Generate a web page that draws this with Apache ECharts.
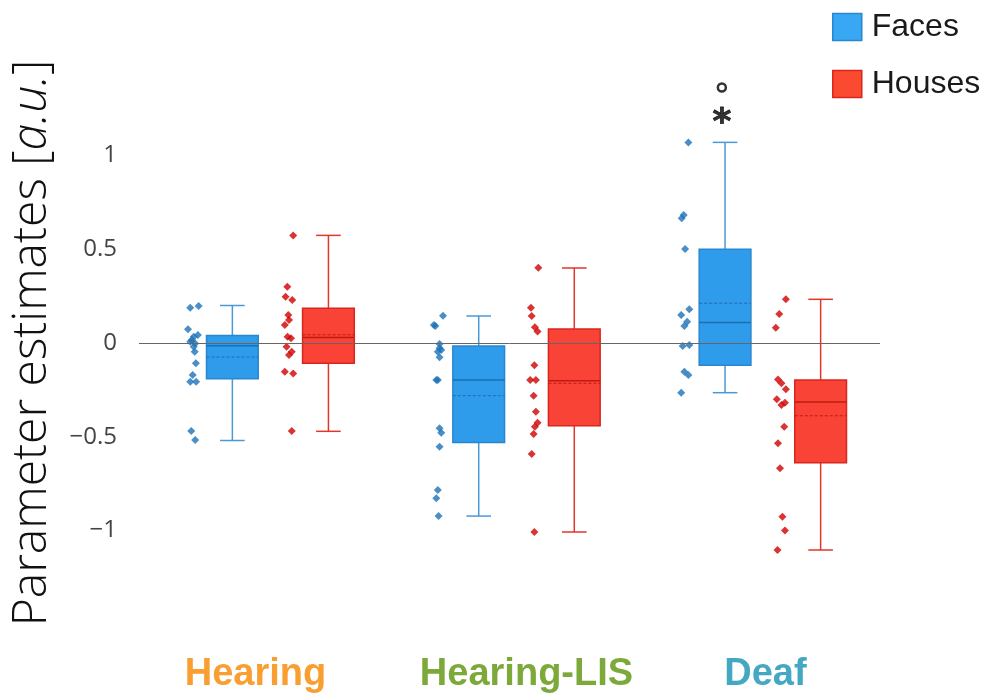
<!DOCTYPE html>
<html>
<head>
<meta charset="utf-8">
<script src="https://cdn.jsdelivr.net/npm/echarts@6/dist/echarts.min.js"></script>
<style>html,body{margin:0;padding:0;background:#fff}#chart{width:989px;height:694px}</style>
</head>
<body>
<div id="chart"></div>
<script>
// ---- Data ----
const categories = ['Hearing', 'Hearing-LIS', 'Deaf'];
const categoryColors = ['#F99F32', '#7CA93A', '#45A8C3'];
const labelPositions = [-0.1, 1.0, 1.97];
const yTickLabels = [-1, -0.5, 0, 0.5, 1];
const seriesNames = ['Faces', 'Houses'];

// box stats: [x, whiskerLow, q1, median, q3, whiskerHigh, mean]
const facesBoxes = [
  [-0.194, -0.52, -0.19, -0.015, 0.04, 0.20, -0.075],
  [0.806, -0.923, -0.53, -0.197, -0.016, 0.144, -0.281],
  [1.806, -0.265, -0.119, 0.11, 0.50, 1.07, 0.212]
];
const housesBoxes = [
  [0.196, -0.471, -0.108, 0.03, 0.185, 0.574, 0.044],
  [1.194, -1.008, -0.441, -0.201, 0.075, 0.40, -0.215],
  [2.194, -1.104, -0.638, -0.315, -0.197, 0.233, -0.388]
];

// individual points [x, value]
const facesPoints = [
  [-0.365, 0.188], [-0.331, 0.197], [-0.374, 0.073], [-0.334, 0.043], [-0.351, 0.034],
  [-0.358, 0.016], [-0.365, 0.007], [-0.345, -0.002], [-0.351, -0.02], [-0.347, -0.046],
  [-0.342, -0.108], [-0.355, -0.171], [-0.365, -0.206], [-0.341, -0.206], [-0.361, -0.469],
  [-0.345, -0.517],
  [0.661, 0.146], [0.624, 0.096], [0.630, 0.091], [0.647, -0.005], [0.647, -0.028],
  [0.654, -0.037], [0.640, -0.046], [0.647, -0.076], [0.634, -0.197], [0.640, -0.197],
  [0.647, -0.455], [0.654, -0.478], [0.647, -0.553], [0.640, -0.784], [0.634, -0.828],
  [0.643, -0.923],
  [1.657, 1.07], [1.638, 0.683], [1.630, 0.665], [1.644, 0.501], [1.661, 0.18],
  [1.628, 0.149], [1.652, 0.114], [1.641, 0.091], [1.661, -0.011], [1.634, -0.016],
  [1.641, -0.153], [1.657, -0.171], [1.628, -0.265]
];
const housesPoints = [
  [0.053, 0.574], [0.029, 0.30], [0.022, 0.247], [0.049, 0.229], [0.033, 0.149],
  [0.036, 0.123], [0.019, 0.096], [0.030, 0.034], [0.044, 0.025], [0.026, -0.02],
  [0.047, -0.046], [0.036, -0.064], [0.019, -0.153], [0.053, -0.162], [0.047, -0.469],
  [1.048, 0.402], [1.018, 0.188], [1.021, 0.144], [1.034, 0.084], [1.045, 0.061],
  [1.032, -0.119], [1.015, -0.197], [1.038, -0.197], [1.029, -0.281], [1.038, -0.366],
  [1.045, -0.425], [1.034, -0.446], [1.029, -0.485], [1.021, -0.592], [1.032, -1.008],
  [2.053, 0.233], [2.026, 0.155], [2.012, 0.082], [2.021, -0.194], [2.035, -0.215],
  [2.053, -0.247], [2.016, -0.3], [2.049, -0.318], [2.035, -0.331], [2.046, -0.446],
  [2.021, -0.535], [2.029, -0.668], [2.039, -0.926], [2.049, -1.0], [2.019, -1.104]
];

// significance markers above Deaf/Faces
const starMarker = [[1.793, 1.207]];
const circleMarker = [[1.793, 1.363]];

// ---- Styles ----
const BLUE = { fill: '#2E9BEB', border: '#2A86CE', whisker: '#4A98D6', line: '#1F6FAF', dot: '#1B72B8' };
const RED = { fill: '#F94336', border: '#D8271D', whisker: '#E0362C', line: '#C01A12', dot: '#CF0000' };

function boxRenderer(col) {
  return function (params, api) {
    const x = api.value(0);
    const halfBox = api.size([0.105, 0])[0];
    const halfCap = api.size([0.05, 0])[0];
    const cx = api.coord([x, 0])[0];
    const yLow = api.coord([x, api.value(1)])[1];
    const yQ1 = api.coord([x, api.value(2)])[1];
    const yMed = api.coord([x, api.value(3)])[1];
    const yQ3 = api.coord([x, api.value(4)])[1];
    const yHigh = api.coord([x, api.value(5)])[1];
    const yMean = api.coord([x, api.value(6)])[1];
    const wl = { stroke: col.whisker, lineWidth: 1.5 };
    return {
      type: 'group',
      children: [
        { type: 'line', shape: { x1: cx, y1: yQ3, x2: cx, y2: yHigh }, style: wl },
        { type: 'line', shape: { x1: cx, y1: yQ1, x2: cx, y2: yLow }, style: wl },
        { type: 'line', shape: { x1: cx - halfCap, y1: yHigh, x2: cx + halfCap, y2: yHigh }, style: wl },
        { type: 'line', shape: { x1: cx - halfCap, y1: yLow, x2: cx + halfCap, y2: yLow }, style: wl },
        { type: 'rect', shape: { x: cx - halfBox, y: yQ3, width: 2 * halfBox, height: yQ1 - yQ3 },
          style: { fill: col.fill, stroke: col.border, lineWidth: 1.5 } },
        { type: 'line', shape: { x1: cx - halfBox, y1: yMed, x2: cx + halfBox, y2: yMed },
          style: { stroke: col.line, lineWidth: 1.5 } },
        { type: 'line', shape: { x1: cx - halfBox, y1: yMean, x2: cx + halfBox, y2: yMean },
          style: { stroke: col.line, lineWidth: 1, lineDash: [3, 2] } }
      ]
    };
  };
}

const chart = echarts.init(document.getElementById('chart'), null, { renderer: 'canvas' });

const richLabels = {};
categories.forEach((c, i) => {
  richLabels['c' + i] = { color: categoryColors[i], fontSize: 38, fontWeight: 'bold', fontFamily: 'Liberation Sans' };
});

chart.setOption({
  animation: false,
  backgroundColor: '#fff',
  grid: { left: 137, right: 109, top: 61.75, bottom: 69.75 },
  legend: {
    orient: 'vertical',
    left: 827,
    top: 6,
    itemWidth: 29,
    itemHeight: 27,
    itemGap: 25,
    icon: 'rect',
    textStyle: { fontSize: 32, color: '#1a1a1a', fontFamily: 'Liberation Sans', padding: [0, 0, 0, 5] },
    data: [
      { name: seriesNames[0], itemStyle: { color: '#38A8F5', borderColor: '#2A86CE', borderWidth: 1.5 } },
      { name: seriesNames[1], itemStyle: { color: '#FA4A30', borderColor: '#D8271D', borderWidth: 1.5 } }
    ]
  },
  xAxis: {
    type: 'value',
    min: -0.573,
    max: 2.435,
    axisLine: { show: false },
    axisTick: { show: false },
    splitLine: { show: false },
    axisLabel: {
      margin: 31,
      customValues: labelPositions,
      formatter: function (v) {
        let best = 0;
        labelPositions.forEach((p, i) => { if (Math.abs(p - v) < Math.abs(labelPositions[best] - v)) best = i; });
        return '{c' + best + '|' + categories[best] + '}';
      },
      rich: richLabels
    }
  },
  yAxis: {
    type: 'value',
    min: -1.5,
    max: 1.5,
    interval: 0.5,
    axisLine: { show: false },
    axisTick: { show: false },
    splitLine: { show: false },
    axisLabel: {
      customValues: yTickLabels,
      formatter: v => (v < 0 ? '\u2212' + Math.abs(v) : String(v)),
      fontSize: 24,
      color: '#444',
      fontFamily: 'Open Sans',
      margin: 22
    },
    name: '{n|Parameter estimates [}{i|a.u.}{n|]}',
    nameLocation: 'middle',
    nameRotate: 90,
    nameGap: 83,
    nameTextStyle: {
      rich: {
        n: { fontSize: 48, fontFamily: 'Open Sans', fontWeight: 300, color: '#111' },
        i: { fontSize: 48, fontFamily: 'Open Sans', fontWeight: 300, fontStyle: 'italic', color: '#111' }
      }
    }
  },
  series: [
    {
      name: seriesNames[0],
      type: 'custom',
      renderItem: boxRenderer(BLUE),
      encode: { x: 0, y: [1, 2, 3, 4, 5] },
      itemStyle: { color: BLUE.fill },
      data: facesBoxes,
      z: 2,
      markLine: {
        silent: true,
        symbol: 'none',
        label: { show: false },
        lineStyle: { color: '#666', width: 1, type: 'solid' },
        data: [{ yAxis: 0 }]
      }
    },
    {
      name: seriesNames[1],
      type: 'custom',
      renderItem: boxRenderer(RED),
      encode: { x: 0, y: [1, 2, 3, 4, 5] },
      itemStyle: { color: RED.fill },
      data: housesBoxes,
      z: 2
    },
    {
      name: seriesNames[0],
      type: 'scatter',
      symbol: 'diamond',
      symbolSize: 8,
      itemStyle: { color: BLUE.dot },
      data: facesPoints,
      z: 3
    },
    {
      name: seriesNames[1],
      type: 'scatter',
      symbol: 'diamond',
      symbolSize: 8,
      itemStyle: { color: RED.dot },
      data: housesPoints,
      z: 3
    },
    {
      type: 'scatter',
      symbol: 'circle',
      symbolSize: 0,
      label: { show: true, position: 'inside', formatter: '*', fontSize: 36, fontWeight: 'bold', color: '#000', offset: [0, 7], fontFamily: 'DejaVu Sans', textBorderColor: '#000', textBorderWidth: 0.8 },
      data: starMarker,
      z: 4
    },
    {
      type: 'scatter',
      symbol: 'circle',
      symbolSize: 8,
      itemStyle: { color: 'rgba(0,0,0,0)', borderColor: '#000', borderWidth: 2.5 },
      data: circleMarker,
      z: 4
    }
  ]
});
</script>
</body>
</html>
